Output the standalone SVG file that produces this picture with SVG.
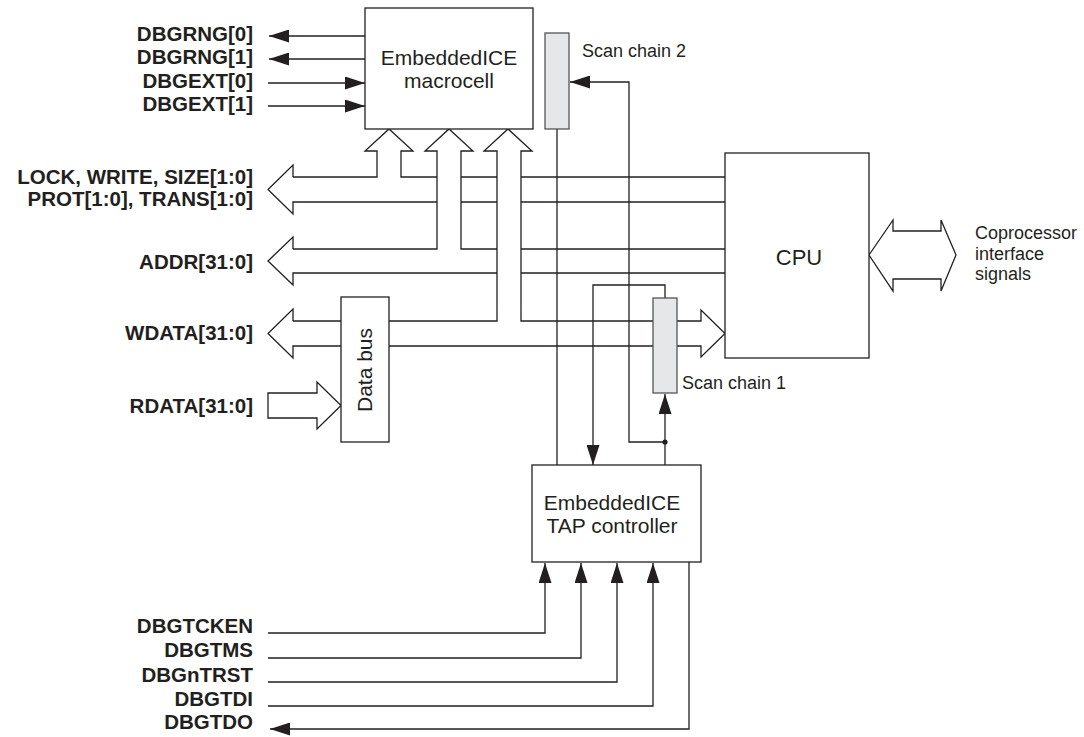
<svg xmlns="http://www.w3.org/2000/svg" width="1084" height="737" viewBox="0 0 1084 737">
<defs>
<style>
.ln{fill:none;stroke:#231f20;stroke-width:1.3}
.box{fill:#fff;stroke:#231f20;stroke-width:1.3}
.sc{fill:#e6e7e8;stroke:#555;stroke-width:1.3}
.lbl{font-family:"Liberation Sans",Arial,sans-serif;font-weight:bold;font-size:20.5px;fill:#231f20;text-anchor:end}
.t{font-family:"Liberation Sans",Arial,sans-serif;font-size:21px;fill:#231f20;text-anchor:middle}
.s{font-family:"Liberation Sans",Arial,sans-serif;font-size:18px;fill:#231f20}
</style>
<marker id="ah" viewBox="0 0 20 13" refX="20" refY="6.5" markerWidth="20" markerHeight="13" markerUnits="userSpaceOnUse" orient="auto">
<path d="M0,0 L20,6.5 L0,13 Z" fill="#231f20"/>
</marker>
</defs>
<rect width="1084" height="737" fill="#fff"/>

<g id="connectors">
<path class="ln" d="M365,36 H269" marker-end="url(#ah)"/>
<path class="ln" d="M365,59 H269" marker-end="url(#ah)"/>
<path class="ln" d="M268,83 H365" marker-end="url(#ah)"/>
<path class="ln" d="M268,106 H365" marker-end="url(#ah)"/>

<path class="ln" d="M293,177 V165 L268,189.5 L293,214 V202 H437 M461,202 H497 M521,202 H725"/>
<path class="ln" d="M293,177 H377 V151 H365 L389,129 L413,151 H401 V177 H437 M461,177 H497 M521,177 H725"/>
<path class="ln" d="M293,249 H437 V151 H425 L449,129 L473,151 H461 V249 H497 M521,249 H725"/>
<path class="ln" d="M293,249 V237 L268,261 L293,285 V273 H497 M521,273 H725"/>
<path class="ln" d="M293,321 V309 L268,333.5 L293,358 V346 H701 V357 L725,333.5 L701,310 V321 H521 V151 H532 L508,129 L484,151 H497 V321 H293"/>
<path class="ln" d="M268,393 H317 V382 L341,405.5 L317,429 V418 H268 Z"/>
<path class="ln" d="M869,255 L893,220 V231 H941 V220 L956,255 L941,291 V279 H893 V291 Z"/>

<path class="ln" d="M557,129 V465"/>
<path class="ln" d="M665,442 H629 V82 H570" marker-end="url(#ah)"/>
<path class="ln" d="M665,465 V394" marker-end="url(#ah)"/>
<path class="ln" d="M665,298 V285 H593 V465" marker-end="url(#ah)"/>
<circle cx="665" cy="442" r="2.6" fill="#231f20"/>

<path class="ln" d="M268,633 H545 V563" marker-end="url(#ah)"/>
<path class="ln" d="M268,658 H581 V563" marker-end="url(#ah)"/>
<path class="ln" d="M268,682 H617 V563" marker-end="url(#ah)"/>
<path class="ln" d="M268,706 H653 V563" marker-end="url(#ah)"/>
<path class="ln" d="M689,562 V729 H270" marker-end="url(#ah)"/>
</g>

<g id="macrocell">
<rect class="box" x="365" y="8" width="168" height="121"/>
<text class="t" x="449" y="65">EmbeddedICE</text>
<text class="t" x="449" y="88">macrocell</text>
</g>

<g id="scanchain2">
<rect class="sc" x="545" y="33" width="24" height="96"/>
<text class="s" x="582" y="57">Scan chain 2</text>
</g>

<g id="cpu">
<rect class="box" x="725" y="153" width="144" height="205"/>
<text class="t" x="799" y="265" style="font-size:22px">CPU</text>
</g>

<g id="databus">
<rect class="box" x="341" y="297" width="48" height="145"/>
<text class="t" transform="translate(372,370) rotate(-90)" x="0" y="0">Data bus</text>
</g>

<g id="scanchain1">
<rect class="sc" x="653" y="298" width="24" height="95"/>
<text class="s" x="682" y="389">Scan chain 1</text>
</g>

<g id="tap">
<rect class="box" x="532" y="465" width="169" height="97"/>
<text class="t" x="612" y="510">EmbeddedICE</text>
<text class="t" x="612" y="533">TAP controller</text>
</g>

<g id="coproc-label">
<text class="s" x="975" y="239">Coprocessor</text>
<text class="s" x="975" y="260">interface</text>
<text class="s" x="975" y="280">signals</text>
</g>

<g id="labels">
<text class="lbl" x="253" y="41">DBGRNG[0]</text>
<text class="lbl" x="253" y="64">DBGRNG[1]</text>
<text class="lbl" x="253" y="88">DBGEXT[0]</text>
<text class="lbl" x="253" y="111">DBGEXT[1]</text>
<text class="lbl" x="253" y="184">LOCK, WRITE, SIZE[1:0]</text>
<text class="lbl" x="253" y="206">PROT[1:0], TRANS[1:0]</text>
<text class="lbl" x="253" y="269">ADDR[31:0]</text>
<text class="lbl" x="253" y="340">WDATA[31:0]</text>
<text class="lbl" x="253" y="413">RDATA[31:0]</text>
<text class="lbl" x="253" y="633">DBGTCKEN</text>
<text class="lbl" x="253" y="657">DBGTMS</text>
<text class="lbl" x="253" y="682">DBGnTRST</text>
<text class="lbl" x="253" y="706">DBGTDI</text>
<text class="lbl" x="253" y="729">DBGTDO</text>
</g>
</svg>
